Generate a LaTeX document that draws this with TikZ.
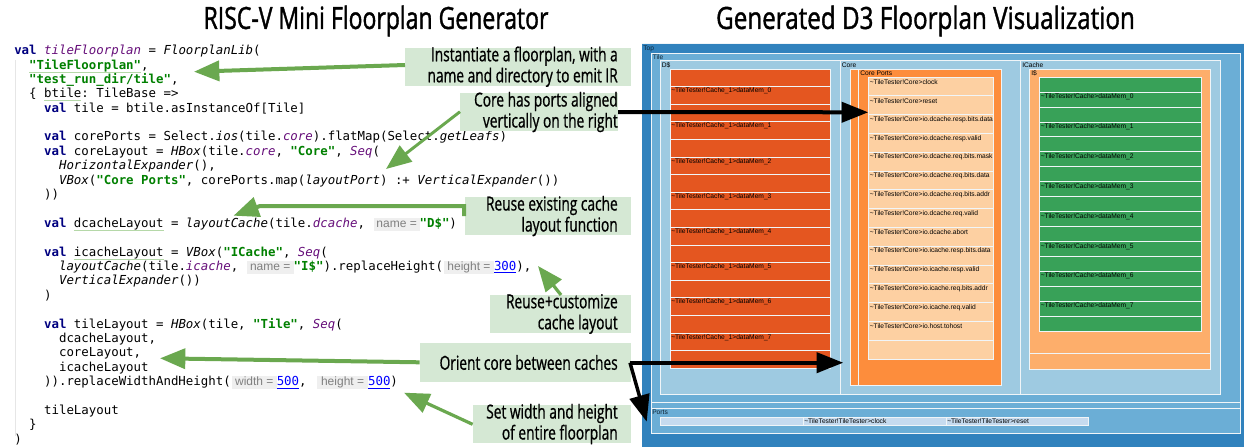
\documentclass[tikz,border=0pt]{standalone}
\usepackage{fontspec}
\usetikzlibrary{arrows.meta}
\setmainfont{Liberation Sans}
\setmonofont{DejaVu Sans Mono}
\newfontfamily\titlefont[FakeStretch=0.75,FakeBold=1.2]{Open Sans}
\newfontfamily\titlefontb[FakeStretch=0.79,FakeBold=1.2]{Open Sans}
\newfontfamily\notefont[FakeStretch=0.71,FakeBold=0.8]{Open Sans}
\newlength{\px}\setlength{\px}{0.75pt}
\definecolor{topc}{HTML}{3182BD}
\definecolor{tilec}{HTML}{6BAED6}
\definecolor{subc}{HTML}{9ECAE1}
\definecolor{redc}{HTML}{E45620}
\definecolor{orc}{HTML}{FD8D3C}
\definecolor{lorc}{HTML}{FDAE6B}
\definecolor{pale}{HTML}{FDD0A2}
\definecolor{grc}{HTML}{38A158}
\definecolor{portc}{HTML}{C6DBEF}
\definecolor{edge}{HTML}{F0F5F8}
\definecolor{noteg}{HTML}{D5E8D4}
\definecolor{arrg}{HTML}{6AA84F}
\definecolor{kw}{HTML}{000080}
\definecolor{strg}{HTML}{008000}
\definecolor{fld}{HTML}{660E7A}
\definecolor{hintbg}{HTML}{EFEFEF}
\definecolor{hintfg}{HTML}{808080}
\definecolor{sq}{HTML}{B5D8A8}
\definecolor{guide}{HTML}{E6E6E6}
\newcommand{\kv}{\textcolor{kw}{\textbf{val}}}
\newcommand{\st}[1]{\textcolor{strg}{\textbf{#1}}}
\newcommand{\itt}[1]{\textit{#1}}
\newcommand{\fd}[1]{\textcolor{fld}{\textit{#1}}}
\newcommand{\nm}[1]{\textcolor{blue}{\underline{#1}}}
\newcommand{\squig}[1]{\setbox0\hbox{#1}\rlap{\textcolor{sq}{\rule[-2.4pt]{\wd0}{0.5pt}}}\box0\relax}
\newcommand{\hint}[2]{{\setlength{\fboxsep}{0pt}\colorbox{hintbg}{\makebox[#2\px]{\rule[-2.6pt]{0pt}{10pt}\fontsize{9pt}{10pt}\selectfont\rmfamily\color{hintfg}#1}}}}
\tikzset{
 cell/.style={draw=edge,line width=0.5pt,fill=#1},
 lab/.style={font=\fontsize{5pt}{6pt}\selectfont,anchor=west,inner sep=0pt,text=black},
 code/.style={font=\ttfamily\fontsize{9.3pt}{10pt}\selectfont,anchor=west,inner sep=0pt},
 notetx/.style={font=\notefont\fontsize{14.5pt}{15.75pt}\selectfont,align=right,anchor=east,inner sep=0pt,text=black},
 greenarr/.style={draw=arrg,line width=3pt,-{Triangle[length=19pt,width=15pt,fill=arrg]}},
 blackarr/.style={draw=black,line width=3pt,-{Triangle[length=20pt,width=15pt,fill=black]}},
 titl/.style={font=\titlefont\fontsize{23pt}{26pt}\selectfont,inner sep=0pt},
}
\begin{document}
\begin{tikzpicture}[x=0.75pt,y=-0.75pt]
\useasboundingbox (0,0) rectangle (1244,447);
\fill[white] (0,0) rectangle (1244,447);
\node[titl] (t1) at (376,21) {RISC-V Mini Floorplan Generator};
\node[titl,font=\titlefontb\fontsize{23pt}{26pt}\selectfont] (t2) at (925.5,21) {Generated D3 Floorplan Visualization};
% code
\draw[guide,line width=0.6pt] (15.5,60) -- (15.5,436);
\foreach \i/\tx in {
0/{\kv{} \fd{tileFloorplan} = \itt{FloorplanLib}(},
1/{\ \ \squig{\st{"TileFloorplan"}},},
2/{\ \ \st{"test\_run\_dir/tile"},},
3/{\ \ \{ \squig{btile}: TileBase =>},
4/{\ \ \ \ \kv{} tile = btile.asInstanceOf[Tile]},
6/{\ \ \ \ \kv{} corePorts = Select.\itt{ios}(tile.\fd{core}).flatMap(Select.\itt{getLeafs})},
7/{\ \ \ \ \kv{} coreLayout = \itt{HBox}(tile.\fd{core}, \st{"Core"}, \fd{Seq}(},
8/{\ \ \ \ \ \ \itt{HorizontalExpander}(),},
9/{\ \ \ \ \ \ \itt{VBox}(\st{"Core Ports"}, corePorts.map(\itt{layoutPort}) :+ \itt{VerticalExpander}())},
10/{\ \ \ \ ))},
12/{\ \ \ \ \kv{} \squig{dcacheLayout} = \itt{layoutCache}(tile.\fd{dcache}, \kern1\px\hint{name =}{46}\st{"D\$"})},
14/{\ \ \ \ \kv{} \squig{icacheLayout} = \itt{VBox}(\st{"ICache"}, \fd{Seq}(},
15/{\ \ \ \ \ \ \itt{layoutCache}(tile.\fd{icache}, \kern1\px\hint{name =}{47}\st{"I\$"}).replaceHeight(\kern1\px\hint{height =}{50}\nm{300}),},
16/{\ \ \ \ \ \ \itt{VerticalExpander}())},
17/{\ \ \ \ )},
19/{\ \ \ \ \kv{} tileLayout = \itt{HBox}(tile, \st{"Tile"}, \fd{Seq}(},
20/{\ \ \ \ \ \ dcacheLayout,},
21/{\ \ \ \ \ \ coreLayout,},
22/{\ \ \ \ \ \ icacheLayout},
23/{\ \ \ \ )).replaceWidthAndHeight(\kern1\px\hint{width =}{45}\nm{500},\ \kern3\px\hint{height =}{51}\nm{500})},
25/{\ \ \ \ tileLayout},
26/{\ \ \}},
27/{)}}
 {\node[code] (c\i) at (14,{51.7+14.4*\i}) {\strut\tx};}
% floorplan
\fill[topc] (642,43.5) rectangle (1244,447);
\draw[edge,line width=0.5pt] (642,43.5) -- (1244,43.5);
\draw[cell=tilec] (651,53) rectangle (1240,402);
\draw[cell=tilec] (651,402) rectangle (1240,408);
\draw[cell=tilec] (651,408) rectangle (1240,433.3);
\node[lab,text=black!70!topc] (top) at (643,48.5) {Top};
\node[lab,text=black!70!topc] (tl) at (652.5,57) {Tile};
\draw[cell=subc] (660.5,60.5) rectangle (840,394);
\draw[cell=subc] (840,60.5) rectangle (1020,394);
\draw[cell=subc] (1020,60.5) rectangle (1220.7,394);
\node[lab] (ds) at (661.5,65) {D\$};
\node[lab] (cr) at (841.5,65) {Core};
\node[lab] (ic) at (1022,65) {ICache};
% D$
\foreach \i in {0,...,16} \draw[cell=redc] (670,{69+17.6*\i}) rectangle (830.7,{69+17.6*(\i+1)});
\foreach \i in {0,...,7} \node[lab] (dm\i) at (671,{91+35.2*\i}) {\textasciitilde TileTester!Cache\_1>dataMem\_\i};
% Core
\draw[cell=orc] (850,69) rectangle (1001.7,385.5);
\draw[cell=orc] (858.5,69) rectangle (1001.7,385.5);
\node[lab] (cp) at (860,73.5) {Core Ports};
\foreach \i in {0,...,14} \draw[cell=pale] (868,{77+18.8*\i}) rectangle (993,{77+18.8*(\i+1)});
\foreach \i/\tx in {0/clock,1/reset,2/io.dcache.resp.bits.data,3/io.dcache.resp.valid,4/io.dcache.req.bits.mask,5/io.dcache.req.bits.data,6/io.dcache.req.bits.addr,7/io.dcache.req.valid,8/io.dcache.abort,9/io.icache.resp.bits.data,10/io.icache.resp.valid,11/io.icache.req.bits.addr,12/io.icache.req.valid,13/io.host.tohost}
 \node[lab] (cl\i) at (869.5,{82+18.78*\i}) {\textasciitilde TileTester!Core>\tx};
% ICache
\draw[cell=lorc] (1029.3,69) rectangle (1210.7,353);
\draw[cell=lorc] (1029.3,353) rectangle (1210.7,369);
\node[lab] (is) at (1031,73.5) {I\$};
\foreach \i in {0,...,16} \draw[cell=grc] (1039,{77+14.95*\i}) rectangle (1201.7,{77+14.95*(\i+1)});
\foreach \i in {0,...,7} \node[lab] (im\i) at (1040.5,{96.8+29.9*\i}) {\textasciitilde TileTester!Cache>dataMem\_\i};
% ports
\node[lab,text=black!75!topc] (pt) at (652,412.5) {Ports};
\draw[cell=portc] (660,417) rectangle (803,425);
\draw[cell=portc] (803,417) rectangle (946,425);
\draw[cell=portc] (946,417) rectangle (1088,425);
\node[lab] (pc) at (804,421) {\textasciitilde TileTester!TileTester>clock};
\node[lab] (pr) at (947,421) {\textasciitilde TileTester!TileTester>reset};
% notes
\fill[noteg] (405,47.7) rectangle (631,85.7);
\fill[noteg] (460,93.3) rectangle (618,131);
\fill[noteg] (465,197.3) rectangle (631,235);
\fill[noteg] (490,295) rectangle (631,332.7);
\fill[noteg] (419.6,343.3) rectangle (631,381.7);
\fill[noteg] (472.6,405) rectangle (631,443);
\coordinate (n1) at (405,65); \coordinate (t1a) at (194,71.7);
\coordinate (n2) at (460,111.7); \coordinate (t2a) at (386,169);
\coordinate (n3) at (464,216); \coordinate (b3) at (464,206); \coordinate (b3b) at (260,206); \coordinate (t3a) at (233.5,215.7);
\coordinate (n4) at (561,295); \coordinate (t4a) at (538,266);
\coordinate (n5) at (419.6,362.3); \coordinate (t5a) at (160,358.3);
\coordinate (n6) at (472.6,424.3); \coordinate (t6a) at (404,392.7);
\draw[greenarr] (n1) -- (t1a);
\draw[greenarr,line width=2.2pt] (n2) -- (t2a);
\draw[greenarr] (n3) -- (b3) -- (b3b) -- (t3a);
\draw[greenarr,line width=2.4pt] (n4) -- (t4a);
\draw[greenarr] (n5) -- (t5a);
\draw[greenarr,line width=2.4pt] (n6) -- (t6a);
\node[notetx] (x1) at (618,66.7) {Instantiate a floorplan, with a\\name and directory to emit IR};
\node[notetx] (x2) at (618,112) {Core has ports aligned\\vertically on the right};
\node[notetx] (x3) at (618,216) {Reuse existing cache\\layout function};
\node[notetx] (x4) at (618,314) {Reuse+customize\\cache layout};
\node[notetx] (x5) at (618,362.5) {Orient core between caches};
\node[notetx] (x6) at (618,424) {Set width and height\\of entire floorplan};
% black arrows
\coordinate (k1) at (618,112); \coordinate (k1t) at (868.3,112.3);
\coordinate (k2) at (630,362.7); \coordinate (k2t) at (843.3,362.7);
\coordinate (k3t) at (646.7,421.7);
\draw[blackarr] (k1) -- (k1t);
\draw[blackarr] (k2) -- (k2t);
\draw[blackarr,line width=2.6pt] (k2) -- (k3t);
\end{tikzpicture}
\end{document}
